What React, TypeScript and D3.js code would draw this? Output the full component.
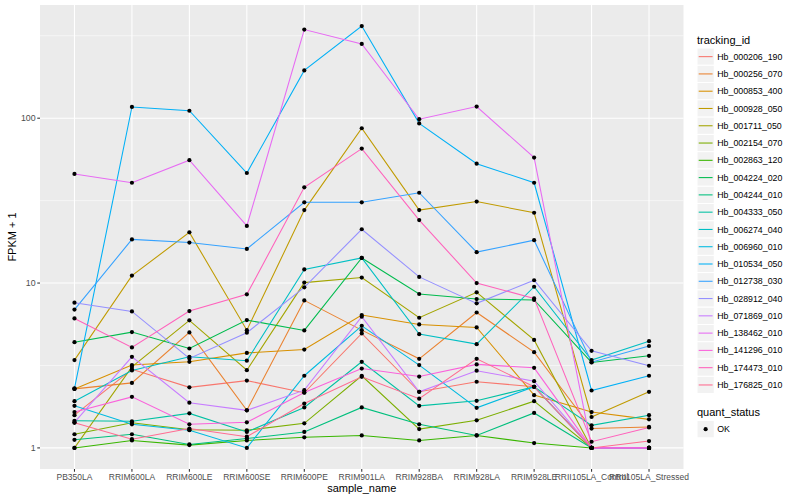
import React from 'react';
import * as d3 from 'd3';

// sample order on the x axis
const samples = [
  'PB350LA',
  'RRIM600LA',
  'RRIM600LE',
  'RRIM600SE',
  'RRIM600PE',
  'RRIM901LA',
  'RRIM928BA',
  'RRIM928LA',
  'RRIM928LE',
  'RRII105LA_Control',
  'RRII105LA_Stressed',
];

// FPKM + 1 per gene, same order as samples
const hb000206_190 = [1.58, 3.0, 2.33, 2.56, 2.16, 4.95, 2.19, 2.52, 2.35, 1.0, 1.0];
const hb000256_070 = [2.28, 2.48, 5.02, 1.69, 7.85, 5.18, 3.47, 6.63, 3.81, 1.31, 1.34];
const hb000853_400 = [2.28, 3.18, 3.33, 3.77, 3.95, 6.4, 5.61, 5.38, 2.09, 1.65, 1.49];
const hb000928_050 = [3.41, 11.1, 20.3, 5.18, 27.7, 86.9, 27.7, 31.2, 26.7, 1.54, 2.19];
const hb001711_050 = [1.0, 3.1, 5.94, 2.96, 10.06, 10.8, 6.16, 8.78, 4.52, 1.0, 1.0];
const hb002154_070 = [1.21, 1.42, 1.29, 1.28, 1.41, 2.74, 1.3, 1.47, 1.92, 1.0, 1.0];
const hb002863_120 = [1.0, 1.11, 1.04, 1.11, 1.16, 1.19, 1.11, 1.19, 1.07, 1.0, 1.0];
const hb004224_020 = [4.38, 5.04, 4.01, 5.96, 5.16, 14.2, 8.58, 8.0, 7.9, 3.3, 3.62];
const hb004244_010 = [1.12, 1.21, 1.05, 1.14, 1.25, 1.76, 1.39, 1.19, 1.63, 1.0, 1.0];
const hb004333_050 = [1.46, 1.45, 1.62, 1.25, 1.76, 3.33, 1.8, 1.93, 2.35, 1.37, 1.58];
const hb006274_040 = [1.92, 2.95, 3.57, 3.38, 12.1, 14.2, 4.9, 4.26, 9.5, 3.41, 4.44];
const hb006960_010 = [1.8, 1.39, 1.28, 1.0, 2.74, 5.5, 3.18, 1.75, 2.35, 1.0, 1.0];
const hb010534_050 = [2.3, 117, 111, 46.5, 195, 362, 93, 53, 40.6, 2.23, 2.74];
const hb012738_030 = [6.9, 18.4, 17.6, 16.1, 30.9, 30.9, 35.3, 15.4, 18.2, 3.31, 4.15];
const hb028912_040 = [7.6, 6.73, 3.49, 5.0, 9.42, 21.2, 10.9, 7.53, 10.4, 3.88, 3.15];
const hb071869_010 = [1.43, 3.57, 1.88, 1.69, 2.24, 6.25, 2.19, 2.94, 2.54, 1.0, 1.0];
const hb138462_010 = [45.9, 40.6, 55.6, 22.2, 345, 282, 98.6, 117.6, 57.7, 1.0, 1.0];
const hb141296_010 = [1.65, 2.04, 1.39, 1.43, 2.17, 3.03, 2.71, 3.21, 3.06, 1.0, 1.0];
const hb174473_010 = [6.1, 4.07, 6.76, 8.54, 38.1, 65.4, 24.1, 10.0, 8.07, 1.09, 1.33];
const hb176825_010 = [1.42, 1.13, 1.31, 1.17, 1.86, 2.7, 1.99, 3.47, 2.35, 1.0, 1.1];

const trackingIds = [
  'Hb_000206_190',
  'Hb_000256_070',
  'Hb_000853_400',
  'Hb_000928_050',
  'Hb_001711_050',
  'Hb_002154_070',
  'Hb_002863_120',
  'Hb_004224_020',
  'Hb_004244_010',
  'Hb_004333_050',
  'Hb_006274_040',
  'Hb_006960_010',
  'Hb_010534_050',
  'Hb_012738_030',
  'Hb_028912_040',
  'Hb_071869_010',
  'Hb_138462_010',
  'Hb_141296_010',
  'Hb_174473_010',
  'Hb_176825_010',
];

const seriesValues = [
  hb000206_190, hb000256_070, hb000853_400, hb000928_050, hb001711_050,
  hb002154_070, hb002863_120, hb004224_020, hb004244_010, hb004333_050,
  hb006274_040, hb006960_010, hb010534_050, hb012738_030, hb028912_040,
  hb071869_010, hb138462_010, hb141296_010, hb174473_010, hb176825_010,
];

// ggplot default hue palette, 20 colours
const palette = [
  '#F8766D', '#EA8331', '#D89000', '#C09B00', '#A3A500',
  '#7CAE00', '#39B600', '#00BB4E', '#00BF7D', '#00C1A3',
  '#00BFC4', '#00BAE0', '#00B0F6', '#35A2FF', '#9590FF',
  '#C77CFF', '#E76BF3', '#FA62DB', '#FF62BC', '#FF6C91',
];

const yTicks = [1, 10, 100];
const yMinor = [Math.pow(10, 0.5), Math.pow(10, 1.5), Math.pow(10, 2.5)];

const W = 800;
const H = 500;
const panel = { left: 40, top: 5, right: 683.5, bottom: 469 };
const font = 'Liberation Sans, Arial, Helvetica, sans-serif';

const App: React.FC = () => {
  const all = seriesValues.flat();
  const lo = Math.log10(d3.min(all) as number);
  const hi = Math.log10(d3.max(all) as number);
  const pad = (hi - lo) * 0.05;

  const x = d3
    .scalePoint<string>()
    .domain(samples)
    .range([panel.left, panel.right])
    .padding(0.6);

  const y = d3
    .scaleLog()
    .domain([Math.pow(10, lo - pad), Math.pow(10, hi + pad)])
    .range([panel.bottom, panel.top]);

  const line = d3
    .line<number>()
    .x((_, i) => x(samples[i]) as number)
    .y((d) => y(d));

  const keySize = 17.28;
  const legendX = 697;
  const keyTop = 48;

  return (
    <svg
      width={W}
      height={H}
      style={{ position: 'absolute', left: 0, top: 0, background: '#fff' }}
      fontFamily={font}
    >
      {/* panel */}
      <rect
        x={panel.left}
        y={panel.top}
        width={panel.right - panel.left}
        height={panel.bottom - panel.top}
        fill="#EBEBEB"
      />
      {yMinor.map((t) => (
        <line
          key={'mn' + t}
          x1={panel.left}
          x2={panel.right}
          y1={y(t)}
          y2={y(t)}
          stroke="#fff"
          strokeWidth={0.53}
        />
      ))}
      {yTicks.map((t) => (
        <line
          key={'mj' + t}
          x1={panel.left}
          x2={panel.right}
          y1={y(t)}
          y2={y(t)}
          stroke="#fff"
          strokeWidth={1.07}
        />
      ))}
      {samples.map((s) => (
        <line
          key={'vx' + s}
          x1={x(s)}
          x2={x(s)}
          y1={panel.top}
          y2={panel.bottom}
          stroke="#fff"
          strokeWidth={1.07}
        />
      ))}

      {/* lines */}
      {seriesValues.map((vals, i) => (
        <path
          key={'l' + i}
          d={line(vals) as string}
          fill="none"
          stroke={palette[i]}
          strokeWidth={1.07}
        />
      ))}
      {/* points */}
      {seriesValues.map((vals, i) =>
        vals.map((v, j) => (
          <circle key={`p${i}-${j}`} cx={x(samples[j])} cy={y(v)} r={2.1} fill="#000" />
        ))
      )}

      {/* y axis */}
      {yTicks.map((t) => (
        <g key={'yt' + t}>
          <line x1={panel.left - 2.74} x2={panel.left} y1={y(t)} y2={y(t)} stroke="#333" strokeWidth={1.07} />
          <text
            x={panel.left - 4.4}
            y={y(t)}
            dy="0.35em"
            textAnchor="end"
            fontSize={8.8}
            fill="#4D4D4D"
          >
            {t}
          </text>
        </g>
      ))}
      {/* x axis */}
      {samples.map((s) => (
        <g key={'xt' + s}>
          <line
            x1={x(s)}
            x2={x(s)}
            y1={panel.bottom}
            y2={panel.bottom + 2.74}
            stroke="#333"
            strokeWidth={1.07}
          />
          <text x={x(s)} y={panel.bottom + 11} textAnchor="middle" fontSize={8.5} fill="#4D4D4D">
            {s}
          </text>
        </g>
      ))}
      <text
        x={(panel.left + panel.right) / 2}
        y={492}
        textAnchor="middle"
        fontSize={11}
        fill="#000"
      >
        sample_name
      </text>
      <text
        transform={`translate(16,${(panel.top + panel.bottom) / 2}) rotate(-90)`}
        textAnchor="middle"
        fontSize={11}
        fill="#000"
      >
        FPKM + 1
      </text>

      {/* legend: tracking_id */}
      <text x={legendX} y={44} fontSize={11} fill="#000">
        tracking_id
      </text>
      {trackingIds.map((id, i) => {
        const ky = keyTop + i * keySize;
        return (
          <g key={'lg' + id}>
            <rect x={legendX} y={ky} width={keySize} height={keySize} fill="#F2F2F2" stroke="#fff" strokeWidth={1} />
            <line
              x1={legendX + 1.7}
              x2={legendX + keySize - 1.7}
              y1={ky + keySize / 2}
              y2={ky + keySize / 2}
              stroke={palette[i]}
              strokeWidth={1.07}
            />
            <text x={legendX + keySize + 3} y={ky + keySize / 2} dy="0.35em" fontSize={8.8} fill="#000">
              {id}
            </text>
          </g>
        );
      })}

      {/* legend: quant_status */}
      <text x={legendX} y={416} fontSize={11} fill="#000">
        quant_status
      </text>
      <rect x={legendX} y={420.5} width={keySize} height={keySize} fill="#F2F2F2" stroke="#fff" strokeWidth={1} />
      <circle cx={legendX + keySize / 2} cy={420.5 + keySize / 2} r={2.1} fill="#000" />
      <text x={legendX + keySize + 3} y={420.5 + keySize / 2} dy="0.35em" fontSize={8.8} fill="#000">
        OK
      </text>
    </svg>
  );
};

export default App;
